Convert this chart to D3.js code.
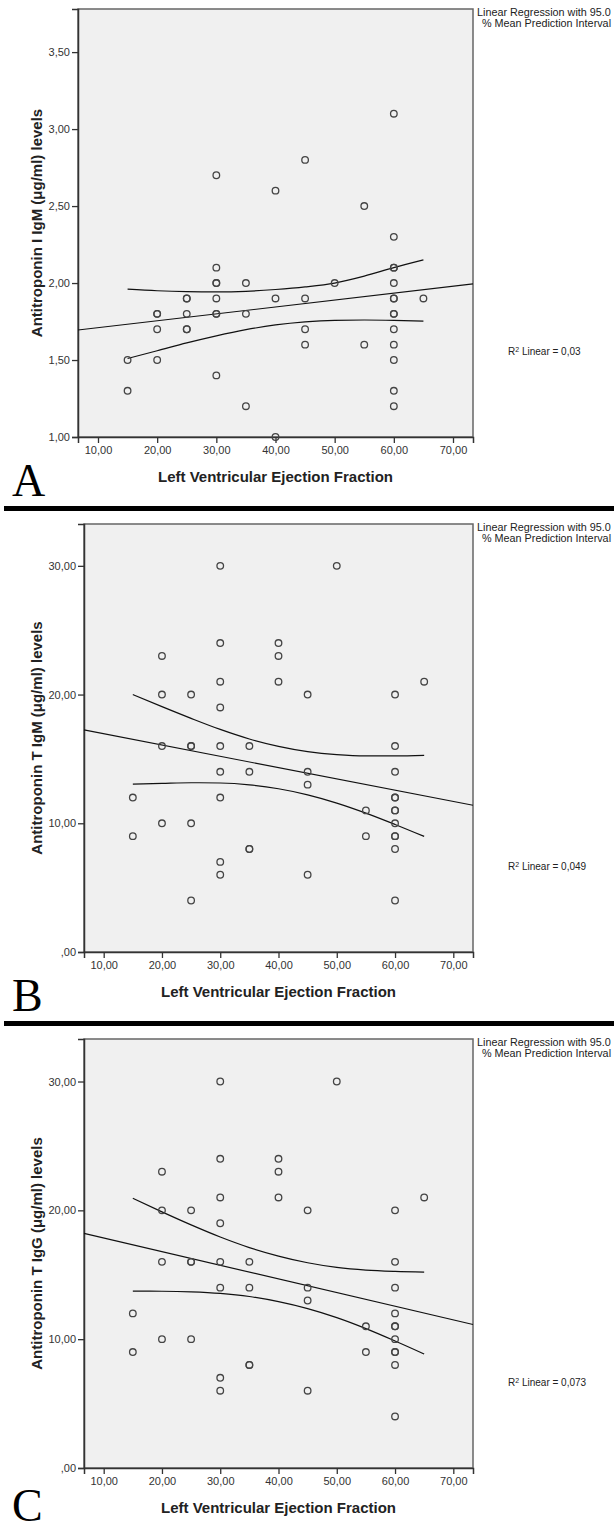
<!DOCTYPE html>
<html>
<head>
<meta charset="utf-8">
<script src="https://cdn.jsdelivr.net/npm/d3@7"></script>
<style>
  body { margin: 0; background: #fff; }
  svg { display: block; }
  text { font-family: "Liberation Sans", Arial, sans-serif; }
</style>
</head>
<body>
<div id="chart"></div>
<script>
// LVEF values (x) and antibody levels (y), one pair of arrays per panel
const lvefA = [15,15, 20,20,20,20, 25,25,25,25,25, 30,30,30,30,30,30,30,30, 35,35,35, 40,40,40,
  45,45,45,45, 50, 55,55, 60,60,60,60,60,60,60,60,60,60,60,60,60,60, 65];
const igmI = [1.5,1.3, 1.8,1.8,1.7,1.5, 1.9,1.9,1.8,1.7,1.7, 2.7,2.1,2.0,2.0,1.9,1.8,1.8,1.4, 2.0,1.8,1.2, 2.6,1.9,1.0,
  2.8,1.9,1.7,1.6, 2.0, 2.5,1.6, 3.1,2.3,2.1,2.1,2.0,1.9,1.9,1.8,1.8,1.7,1.6,1.5,1.3,1.2, 1.9];

const lvefB = [15,15, 20,20,20,20, 25,25,25,25,25, 30,30,30,30,30,30,30,30,30, 35,35,35,35, 40,40,40,
  45,45,45,45, 50, 55,55, 60,60,60,60,60,60,60,60,60,60,60,60, 65];
const igmT = [12,9, 23,20,16,10, 20,16,16,10,4, 30,24,21,19,16,14,12,7,6, 16,14,8,8, 24,23,21,
  20,14,13,6, 30, 11,9, 20,16,14,12,12,11,11,10,9,9,8,4, 21];

const lvefC = [15,15, 20,20,20,20, 25,25,25,25, 30,30,30,30,30,30,30,30, 35,35,35,35, 40,40,40,
  45,45,45,45, 50, 55,55, 60,60,60,60,60,60,60,60,60,60,60, 65];
const iggT = [12,9, 23,20,16,10, 20,16,16,10, 30,24,21,19,16,14,7,6, 16,14,8,8, 24,23,21,
  20,14,13,6, 30, 11,9, 20,16,14,12,11,11,10,9,9,8,4, 21];

// fitted line read at the left / right plot edges
const fitA = [1.695, 1.994];
const fitB = [17.25, 11.40];
const fitC = [18.21, 11.14];

// 95% mean prediction interval, read at these LVEF values
const bandX = [15, 20, 25, 30, 35, 40, 45, 50, 55, 60, 65];
const upperA = [1.96, 1.95, 1.944, 1.942, 1.946, 1.958, 1.975, 2.0, 2.045, 2.10, 2.15];
const lowerA = [1.51, 1.56, 1.611, 1.657, 1.697, 1.728, 1.748, 1.758, 1.76, 1.758, 1.753];
const upperB = [20.0, 19.06, 18.15, 17.29, 16.55, 15.98, 15.57, 15.33, 15.23, 15.23, 15.28];
const lowerB = [13.04, 13.10, 13.15, 13.13, 12.99, 12.68, 12.21, 11.57, 10.79, 9.91, 8.98];
const upperC = [20.93, 19.88, 18.87, 17.93, 17.11, 16.45, 15.93, 15.57, 15.36, 15.26, 15.21];
const lowerC = [13.73, 13.72, 13.67, 13.55, 13.31, 12.91, 12.37, 11.67, 10.82, 9.86, 8.85];

const xTicks = [10, 20, 30, 40, 50, 60, 70];
const yTicksA = [1.0, 1.5, 2.0, 2.5, 3.0, 3.5];
const yTicksBC = [0, 10, 20, 30];
const yTitles = ['Antitroponin I IgM (\u03bcg/ml) levels', 'Antitroponin T IgM (\u03bcg/ml) levels', 'Antitroponin T IgG (\u03bcg/ml) levels'];
const r2Labels = ['0,03', '0,049', '0,073'];
const letters = ['A', 'B', 'C'];

const W = 614, H = 1531;
const svg = d3.select('#chart').append('svg').attr('width', W).attr('height', H);

const panels = [
  {x: lvefA, y: igmI, fit: fitA, up: upperA, lo: lowerA, ticks: yTicksA, yDom: [1.0, 3.78],
   left: 78, top: 9, bottom: 437, letterY: 496},
  {x: lvefB, y: igmT, fit: fitB, up: upperB, lo: lowerB, ticks: yTicksBC, yDom: [0, 33.25],
   left: 84, top: 524, bottom: 952, letterY: 1011},
  {x: lvefC, y: iggT, fit: fitC, up: upperC, lo: lowerC, ticks: yTicksBC, yDom: [0, 33.3],
   left: 84, top: 1039, bottom: 1468, letterY: 1521}
];

const fmt = v => v === 0 ? ',00' : d3.format('.2f')(v).replace('.', ',');
const right = 473;

panels.forEach((p, i) => {
  const x = d3.scaleLinear().domain([6.62, 73.38]).range([p.left, right]);
  const y = d3.scaleLinear().domain(p.yDom).range([p.bottom, p.top]);
  const g = svg.append('g');

  g.append('rect')
    .attr('x', p.left).attr('y', p.top)
    .attr('width', right - p.left).attr('height', p.bottom - p.top)
    .attr('fill', '#f0f0f0').attr('stroke', '#666').attr('stroke-width', 1.5);

  // axes
  const ya = g.append('g').attr('transform', 'translate(' + p.left + ',0)')
    .call(d3.axisLeft(y).tickValues(p.ticks).tickSize(6).tickPadding(2).tickFormat(fmt));
  const xa = g.append('g').attr('transform', 'translate(0,' + p.bottom + ')')
    .call(d3.axisBottom(x).tickValues(xTicks).tickSize(6).tickPadding(3).tickFormat(fmt));
  [ya, xa].forEach(a => {
    a.select('.domain').attr('stroke', '#333').attr('stroke-width', 1.5);
    a.selectAll('.tick line').attr('stroke', '#333').attr('stroke-width', 1.3);
    a.selectAll('.tick text').attr('fill', '#333').style('font-size', '11px')
      .style('font-family', '"Liberation Sans", Arial, sans-serif');
  });

  // regression line and interval
  g.append('line')
    .attr('x1', x(6.62)).attr('y1', y(p.fit[0]))
    .attr('x2', x(73.38)).attr('y2', y(p.fit[1]))
    .attr('stroke', '#111').attr('stroke-width', 1.2);
  const band = d3.line().x((d, k) => x(bandX[k])).y(d => y(d)).curve(d3.curveMonotoneX);
  [p.up, p.lo].forEach(arr => {
    g.append('path').attr('d', band(arr))
      .attr('fill', 'none').attr('stroke', '#111').attr('stroke-width', 1.2);
  });

  // points
  g.append('g').selectAll('circle')
    .data(p.x)
    .enter().append('circle')
      .attr('cx', (d) => x(d))
      .attr('cy', (d, k) => y(p.y[k]))
      .attr('r', 3.3)
      .attr('fill', 'none')
      .attr('stroke', '#444')
      .attr('stroke-width', 1.3);

  // titles
  g.append('text')
    .attr('x', (p.left + right) / 2).attr('y', p.bottom + 45)
    .attr('text-anchor', 'middle').style('font-size', '15px').style('font-weight', 'bold')
    .attr('fill', '#222').text('Left Ventricular Ejection Fraction');
  g.append('text')
    .attr('transform', 'translate(42,' + ((p.top + p.bottom) / 2) + ') rotate(-90)')
    .attr('text-anchor', 'middle').style('font-size', '15px').style('font-weight', 'bold')
    .attr('fill', '#222').text(yTitles[i]);

  // legend notes
  g.append('text').attr('x', 477).attr('y', p.top + 7)
    .style('font-size', '10.8px').attr('fill', '#222').text('Linear Regression with 95.0');
  g.append('text').attr('x', 482).attr('y', p.top + 18)
    .style('font-size', '10.8px').attr('fill', '#222').text('% Mean Prediction Interval');
  const r2 = g.append('text').attr('x', 508).attr('y', p.top + (p.bottom - p.top) * 0.8 + 4)
    .style('font-size', '10px').attr('fill', '#222');
  r2.append('tspan').text('R');
  r2.append('tspan').attr('dy', -3).style('font-size', '7px').text('2');
  r2.append('tspan').attr('dy', 3).text(' Linear = ' + r2Labels[i]);

  // panel letter
  g.append('text').attr('x', 12).attr('y', p.letterY)
    .style('font-family', '"Liberation Serif", "Times New Roman", serif')
    .style('font-size', '46px').attr('fill', '#000').text(letters[i]);
});

// separators between panels
[506, 1021].forEach(yy => {
  svg.append('rect').attr('x', 4).attr('y', yy).attr('width', W - 4).attr('height', 5).attr('fill', '#000');
});
</script>
</body>
</html>
